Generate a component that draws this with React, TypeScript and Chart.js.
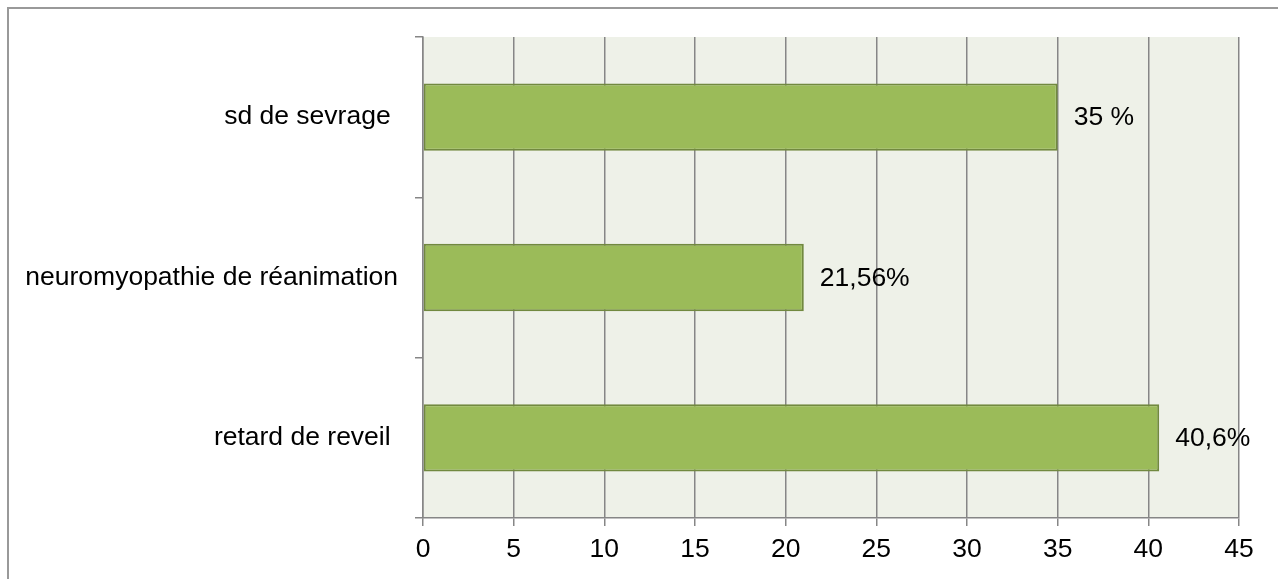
import React, { useEffect, useRef } from "react";
import { Chart, registerables } from "chart.js";

Chart.register(...registerables);

const categories = ["sd de sevrage ", "neuromyopathie de réanimation", "retard de reveil "];
const values = [35, 21, 40.6];
const valueLabels = ["35 %", "21,56%", "40,6%"];
const xMin = 0;
const xMax = 45;
const xStep = 5;

const FONT = "'Liberation Sans', Arial, sans-serif";
const FSIZE = 26.5;

const bgPlugin = {
  id: "plotBg",
  beforeDraw(chart: any) {
    const { ctx, chartArea } = chart;
    ctx.save();
    ctx.fillStyle = "#EEF1E8";
    ctx.fillRect(chartArea.left, chartArea.top, chartArea.right - chartArea.left, chartArea.bottom - chartArea.top);
    ctx.restore();
  },
};

const labelPlugin = {
  id: "valueLabels",
  afterDatasetsDraw(chart: any) {
    const { ctx } = chart;
    const meta = chart.getDatasetMeta(0);
    ctx.save();
    ctx.font = `${FSIZE}px ${FONT}`;
    ctx.fillStyle = "#000";
    ctx.textBaseline = "middle";
    ctx.textAlign = "left";
    meta.data.forEach((bar: any, i: number) => {
      ctx.fillText(valueLabels[i], bar.x + 16, bar.y + 1);
    });
    ctx.restore();
  },
};

export default function App() {
  const ref = useRef<HTMLCanvasElement>(null);
  useEffect(() => {
    document.body.style.margin = "0";
    if (!ref.current) return;
    const chart = new Chart(ref.current, {
      type: "bar",
      data: {
        labels: categories,
        datasets: [
          {
            data: values,
            backgroundColor: "#9BBB59",
            borderColor: "#71893F",
            borderWidth: 2,
            borderSkipped: false,
            barPercentage: 0.42,
            categoryPercentage: 1,
          },
        ],
      },
      options: {
        indexAxis: "y",
        animation: false,
        responsive: true,
        maintainAspectRatio: false,
        layout: { padding: { top: 37, right: 39, left: 0, bottom: 0 } },
        plugins: { legend: { display: false }, tooltip: { enabled: false } },
        scales: {
          x: {
            min: xMin,
            max: xMax,
            ticks: { stepSize: xStep, color: "#000", font: { size: FSIZE, family: FONT }, padding: 8 },
            grid: { color: "#868686", lineWidth: 1.5, tickLength: 8, drawTicks: true },
            border: { color: "#868686", width: 1.5 },
            afterFit: (scale: any) => {
              scale.height = 61;
            },
          },
          y: {
            offset: true,
            ticks: { color: "#000", font: { size: FSIZE, family: FONT }, padding: 17 },
            grid: { offset: true, drawOnChartArea: false, drawTicks: true, tickLength: 8, color: "#868686", lineWidth: 1.5 },
            border: { color: "#868686", width: 1.5 },
            afterFit: (scale: any) => {
              scale.width = 423;
            },
          },
        },
      },
      plugins: [bgPlugin, labelPlugin],
    });
    return () => chart.destroy();
  }, []);
  return (
    <div style={{ position: "fixed", left: 0, top: 0, width: 1278, height: 579, background: "#fff", overflow: "hidden" }}>
      <div
        style={{
          position: "absolute",
          left: 7,
          top: 7,
          width: 1400,
          height: 700,
          borderTop: "2px solid #999",
          borderLeft: "2px solid #999",
        }}
      />
      <canvas ref={ref} style={{ position: "absolute", left: 0, top: 0, width: 1278, height: 579 }} />
    </div>
  );
}
